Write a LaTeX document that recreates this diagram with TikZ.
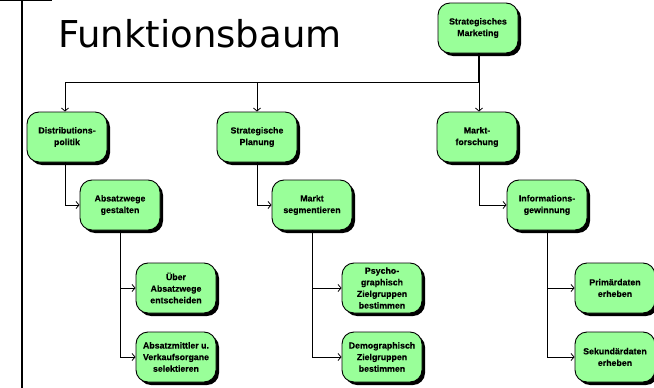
\documentclass[tikz,border=0pt]{standalone}
\usepackage{fontspec}
\setmainfont{Liberation Sans}
\newfontfamily\titlefont{DejaVu Sans}
\newfontfamily\boxfont[BoldFeatures={FakeBold=0.4}]{Liberation Sans}
\usetikzlibrary{arrows.meta,shadows}
\definecolor{boxgreen}{RGB}{153,255,153}
\begin{document}
\begin{tikzpicture}[x=1pt,y=-1pt,
  fbox/.style={draw=black, line width=0.9pt, fill=boxgreen, rounded corners=12pt,
    minimum width=80pt, minimum height=50pt, inner sep=1pt, align=center,
    font=\boxfont\fontsize{8.8}{11.6}\selectfont\bfseries,
    drop shadow={shadow xshift=3pt, shadow yshift=-3pt, fill=black, opacity=1}},
  conn/.style={draw=black, line width=0.8pt},
  arr/.style={conn, -{Straight Barb[length=3pt,width=7pt]}}]
\useasboundingbox (0,0) rectangle (654,388);
% frame
\draw[line width=1.6pt] (22,0) -- (22,388);
\draw[line width=1pt] (0,0.5) -- (52,0.5);
% title
\node[anchor=base west, inner sep=0pt, font=\titlefont\fontsize{37}{40}\selectfont] (title) at (58,47) {Funktionsbaum};
% nodes
\node[fbox] (root) at (478,28) {Strategisches\\Marketing};
\node[fbox] (dp) at (67,137) {Distributions-\\politik};
\node[fbox] (sp) at (257,137) {Strategische\\Planung};
\node[fbox] (mf) at (477,137) {Markt-\\forschung};
\node[fbox] (ag) at (120,205) {Absatzwege\\gestalten};
\node[fbox] (ms) at (312,205) {Markt\\segmentieren};
\node[fbox] (ig) at (547,205) {Informations-\\gewinnung};
\node[fbox] (ue) at (176,288) {Über\\Absatzwege\\entscheiden};
\node[fbox] (am) at (176,357) {Absatzmittler u.\\Verkaufsorgane\\selektieren};
\node[fbox] (ps) at (382,288) {Psycho-\\graphisch\\Zielgruppen\\bestimmen};
\node[fbox] (de) at (382,357) {Demographisch\\Zielgruppen\\bestimmen};
\node[fbox] (pd) at (615,288) {Primärdaten\\erheben};
\node[fbox] (sd) at (615,357) {Sekundärdaten\\erheben};
% connectors
\coordinate (j) at (479,82);
\draw[conn, line width=2pt] (root.south -| j) -- (j);
\draw[conn] (j) -- (65,82);
\draw[arr] (65,82) -- (dp.north -| 65,0);
\draw[arr] (257,82) -- (sp.north);
\draw[arr] (j) -- (mf.north -| j);
\draw[arr] (dp.south -| 65,0) |- (ag.west);
\draw[arr] (sp.south) |- (ms.west);
\draw[arr] (mf.south -| j) |- (ig.west);
\draw[arr] (ag.south) |- (ue.west);
\draw[arr] (ag.south) |- (am.west);
\draw[arr] (ms.south) |- (ps.west);
\draw[arr] (ms.south) |- (de.west);
\draw[arr] (ig.south) |- (pd.west);
\draw[arr] (ig.south) |- (sd.west);
\end{tikzpicture}
\end{document}
